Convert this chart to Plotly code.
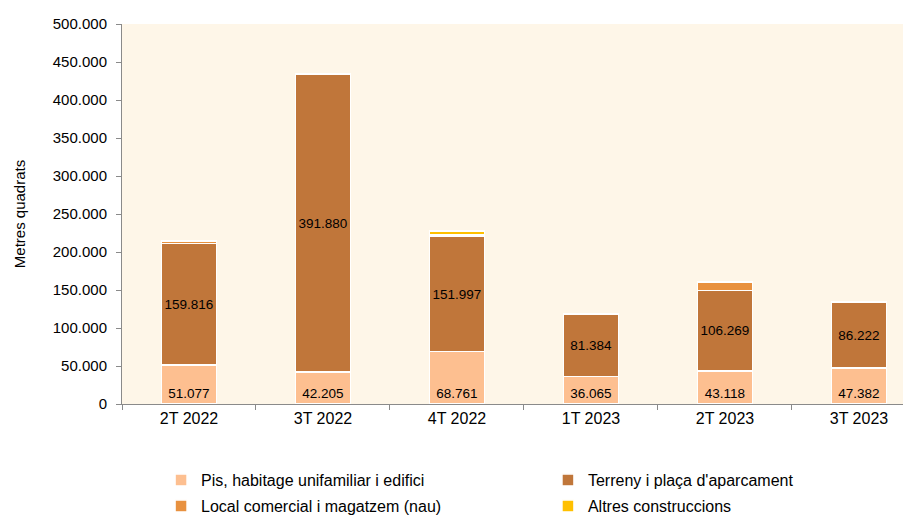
import plotly.graph_objects as go

categories = ["2T 2022", "3T 2022", "4T 2022", "1T 2023", "2T 2023", "3T 2023"]
pis = [51077, 42205, 68761, 36065, 43118, 47382]
terreny = [159816, 391880, 151997, 81384, 106269, 86222]
local = [3200, 600, 2500, 500, 11000, 400]
altres = [600, 300, 4300, 200, 400, 200]

series_names = [
    "Pis, habitage unifamiliar i edifici",
    "Terreny i plaça d'aparcament",
    "Local comercial i magatzem (nau)",
    "Altres construccions",
]
colors = ["#FDBF90", "#C0763A", "#E8913F", "#FFC000"]

FONT = "Liberation Sans, Arial, sans-serif"

def fmt(v):
    return f"{v:,}".replace(",", ".")

# legend slot positions (container fractions): x, y
legend_slots = [(0.168, 0.0888), (0.5927, 0.0888), (0.168, 0.0386), (0.5927, 0.0386)]

fig = go.Figure()
stack = [
    (pis, 0, True, "start"),
    (terreny, 1, True, "middle"),
    (local, 2, False, None),
    (altres, 3, False, None),
]
for vals, idx, show_text, anchor in stack:
    if show_text:
        kw = dict(text=[fmt(v) for v in vals], textposition="inside",
                  insidetextanchor=anchor, textangle=0,
                  textfont=dict(color="black", size=16, family=FONT))
    else:
        kw = dict(textposition="none")
    fig.add_trace(go.Bar(
        x=categories, y=vals, name=series_names[idx],
        legend="legend" if idx == 0 else f"legend{idx + 1}",
        marker=dict(color=colors[idx], line=dict(color="white", width=1.5)),
        width=0.41, hoverinfo="x+y+name", **kw))

layout_legends = {}
for i, (lx, ly) in enumerate(legend_slots):
    key = "legend" if i == 0 else f"legend{i + 1}"
    layout_legends[key] = dict(
        xref="container", yref="container", x=lx, y=ly,
        xanchor="left", yanchor="middle", orientation="h",
        bgcolor="rgba(0,0,0,0)", font=dict(size=16, family=FONT),
        itemwidth=30)

fig.update_layout(
    barmode="stack",
    width=911, height=518,
    margin=dict(l=114, r=0, t=16, b=122, autoexpand=False),
    paper_bgcolor="white",
    plot_bgcolor="#FEF6E8",
    separators=",.",
    font=dict(family=FONT, size=14, color="black"),
    showlegend=True,
    uniformtext=dict(mode="show", minsize=10),
    **layout_legends,
)
fig.update_xaxes(
    type="category", range=[-0.5, 5.448],
    showline=True, linecolor="#8A8A8A", linewidth=1,
    ticks="outside", tickson="boundaries", ticklen=5, tickcolor="#8A8A8A",
    tickfont=dict(size=16, family=FONT), showgrid=False,
)
fig.update_yaxes(
    range=[0, 500000], tickvals=[i * 50000 for i in range(11)],
    ticktext=[fmt(i * 50000) for i in range(11)],
    showline=True, linecolor="#8A8A8A", linewidth=1,
    ticks="outside", ticklen=5, tickcolor="#8A8A8A", ticklabelstandoff=6,
    tickfont=dict(size=15, family=FONT), showgrid=False, zeroline=False,
    title=dict(text="Metres quadrats", font=dict(size=15, family=FONT), standoff=23),
)

fig.write_html("out.html")
